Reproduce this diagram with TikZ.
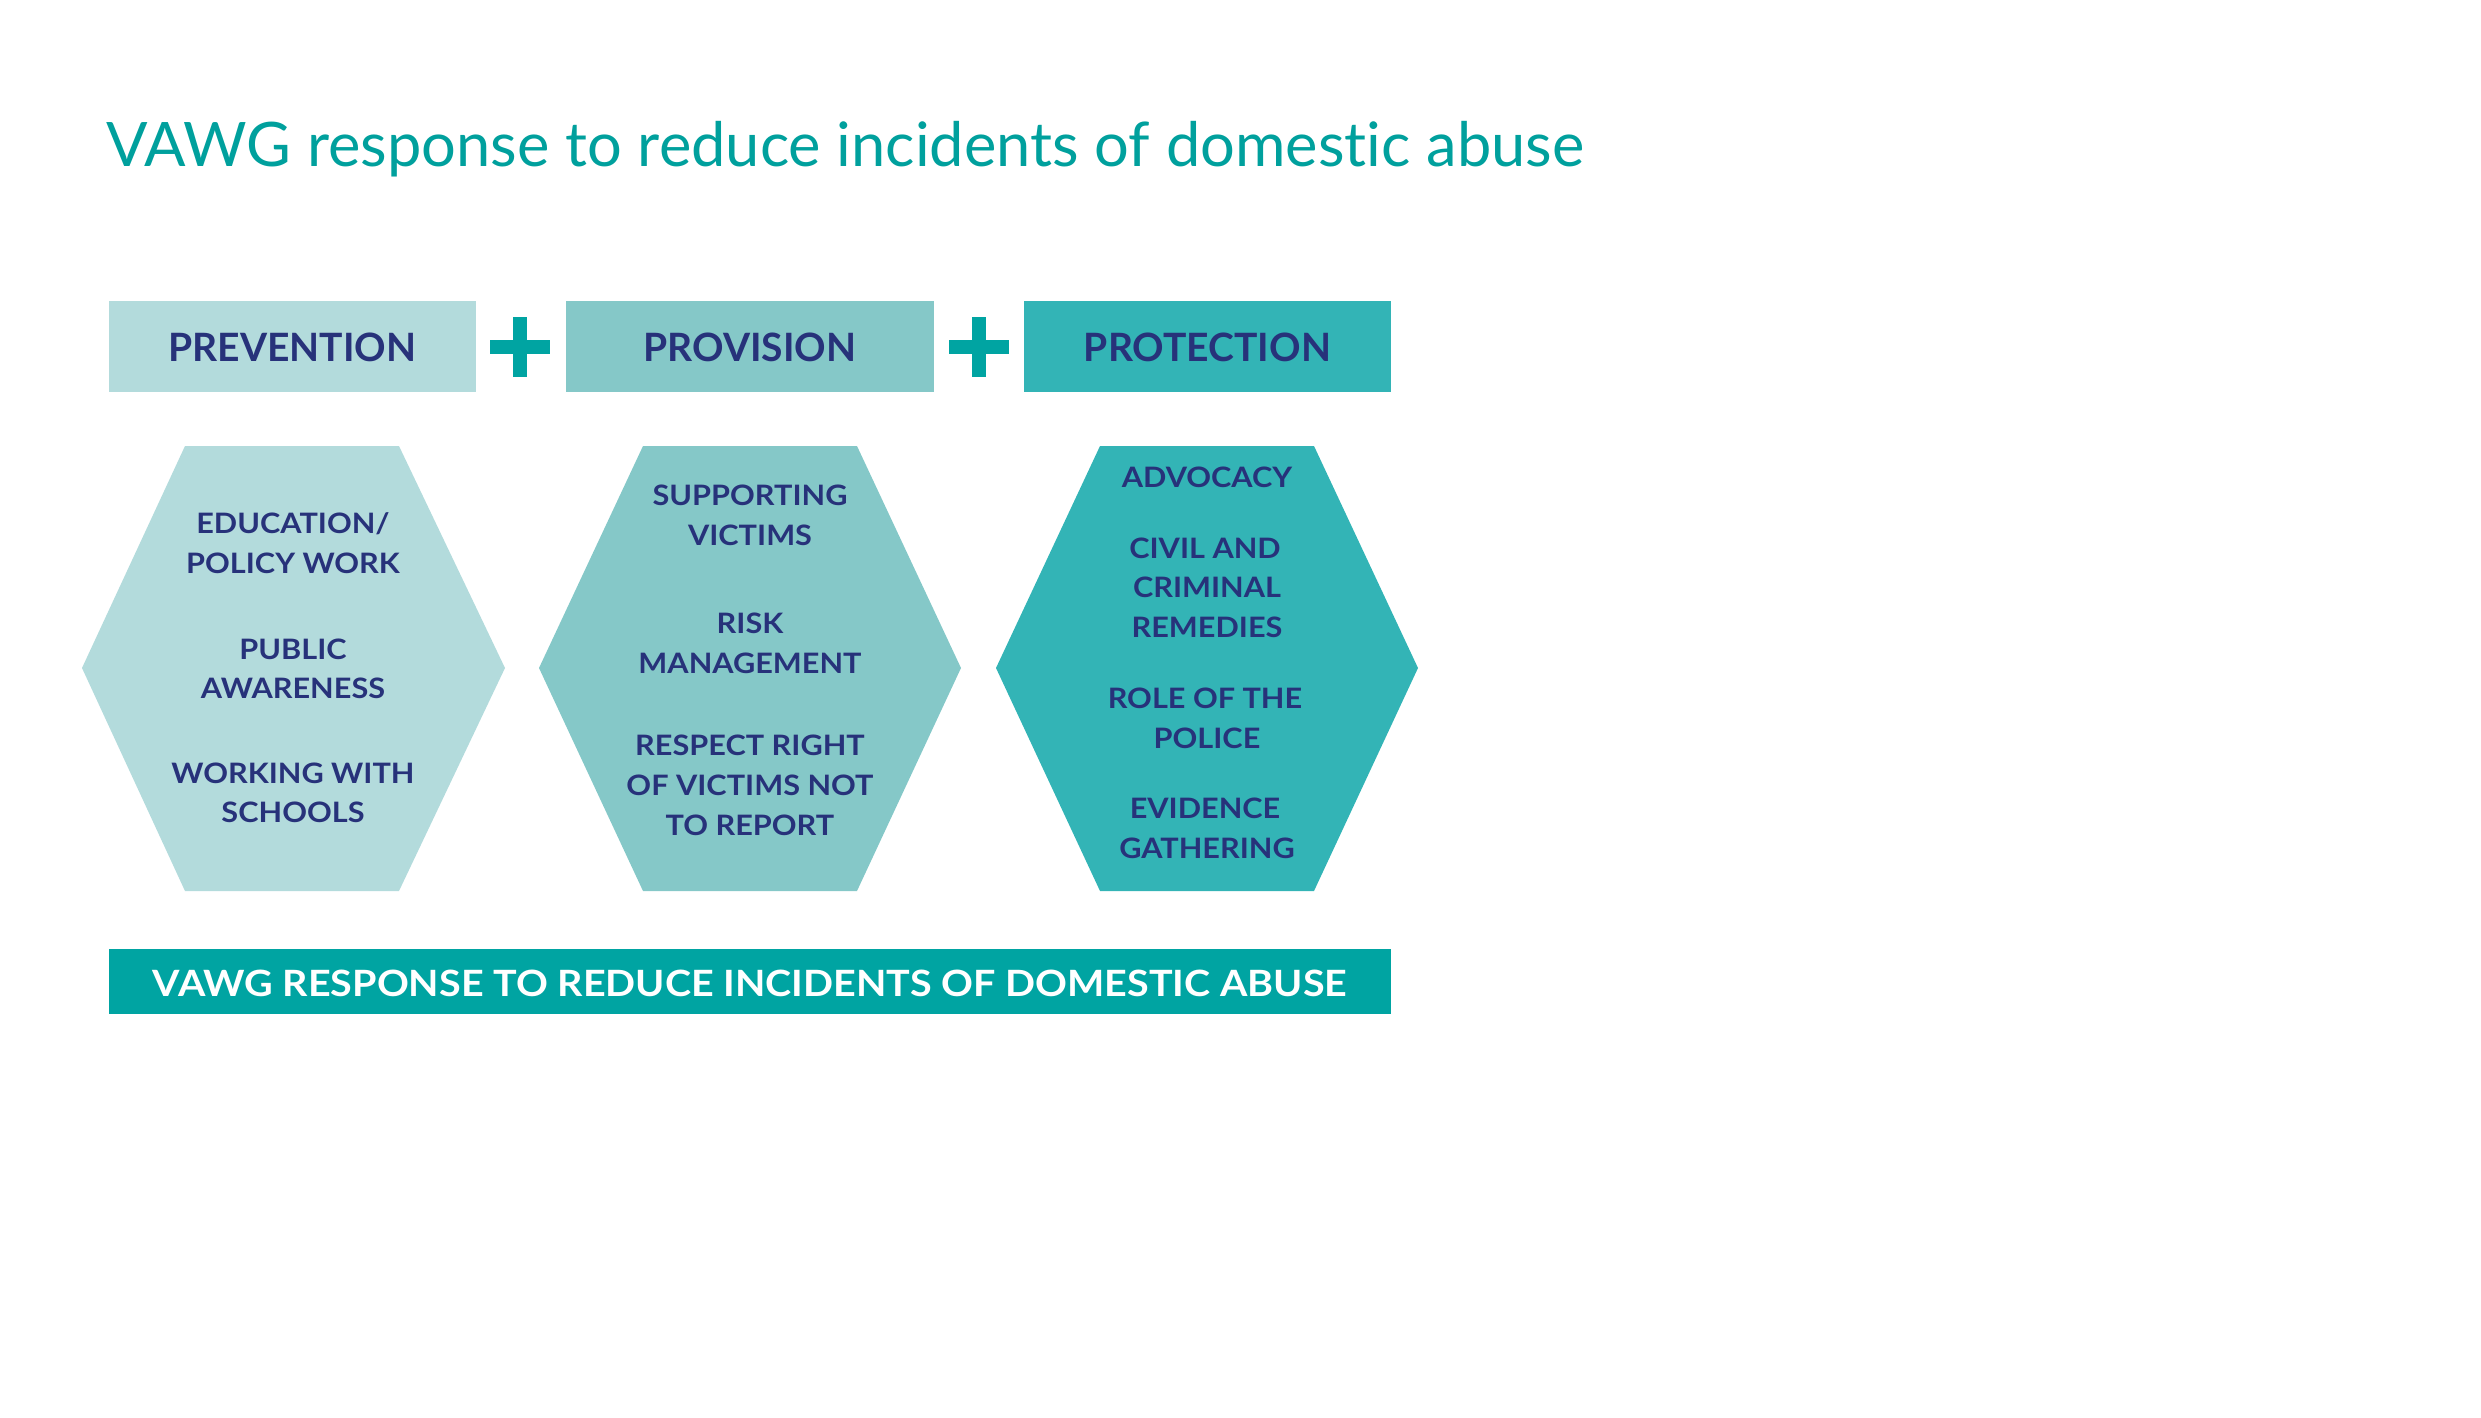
\documentclass[tikz,border=0pt]{standalone}
\usepackage{fontspec}
\setmainfont{Lato}[RawFeature=-liga]
\newfontfamily\widefont{Lato}[FakeStretch=1.09, RawFeature=-liga]
\definecolor{lightteal}{HTML}{B3DBDC}
\definecolor{midteal}{HTML}{85C8C8}
\definecolor{darkteal}{HTML}{33B4B6}
\definecolor{barteal}{HTML}{00A4A2}
\definecolor{navy}{HTML}{27327A}
\definecolor{titleteal}{HTML}{00A09D}
\tikzset{
  headlabel/.style={anchor=base, text=navy, font=\fontsize{11.1}{13}\selectfont\bfseries, inner sep=0pt},
  hexline/.style={anchor=base, text=navy, font=\widefont\fontsize{8}{10}\selectfont\bfseries, inner sep=0pt},
  plusbar/.style={fill=barteal},
}
\begin{document}
\begin{tikzpicture}[x=0.01cm, y=-0.01cm]
\useasboundingbox (0,0) rectangle (2481,1418);
% title
\node[anchor=base west, inner sep=0pt, text=titleteal, font=\fontsize{17.45}{20}\selectfont] (title) at (106,166) {VAWG response to reduce incidents of domestic abuse};
% header boxes
\fill[lightteal] (109,301) rectangle (476,392);
\fill[midteal] (566,301) rectangle (934,392);
\fill[darkteal] (1024,301) rectangle (1391,392);
\node[headlabel] (prev) at (292.5,361) {PREVENTION};
\node[headlabel] (prov) at (750,361) {PROVISION};
\node[headlabel] (prot) at (1207.5,361) {PROTECTION};
% plus signs
\fill[plusbar] (489.5,340) rectangle (549.5,354);
\fill[plusbar] (512.5,317) rectangle (526.5,377);
\fill[plusbar] (949,340) rectangle (1009,354);
\fill[plusbar] (972,317) rectangle (986,377);
% hexagons
\fill[lightteal] (185,446) -- (399,446) -- (505,668) -- (399,891) -- (185,891) -- (82,668) -- cycle;
\fill[midteal] (643,446) -- (857,446) -- (961,668) -- (857,891) -- (643,891) -- (539,668) -- cycle;
\fill[darkteal] (1100,446) -- (1314,446) -- (1418,668) -- (1314,891) -- (1100,891) -- (996,668) -- cycle;
% hexagon 1 text
\node[hexline] (a1) at (293,533) {EDUCATION/};
\node[hexline] (a2) at (293,573) {POLICY WORK};
\node[hexline] (a3) at (293,659) {PUBLIC};
\node[hexline] (a4) at (293,698) {AWARENESS};
\node[hexline] (a5) at (293,783) {WORKING WITH};
\node[hexline] (a6) at (293,822) {SCHOOLS};
% hexagon 2 text
\node[hexline] (b1) at (750,505) {SUPPORTING};
\node[hexline] (b2) at (750,545) {VICTIMS};
\node[hexline] (b3) at (750,633) {RISK};
\node[hexline] (b4) at (750,673) {MANAGEMENT};
\node[hexline] (b5) at (750,755) {RESPECT RIGHT};
\node[hexline] (b6) at (750,795) {OF VICTIMS NOT};
\node[hexline] (b7) at (750,835) {TO REPORT};
% hexagon 3 text
\node[hexline] (c1) at (1207,487) {ADVOCACY};
\node[hexline] (c2) at (1205,558) {CIVIL AND};
\node[hexline] (c3) at (1207,597) {CRIMINAL};
\node[hexline] (c4) at (1207,637) {REMEDIES};
\node[hexline] (c5) at (1205,708) {ROLE OF THE};
\node[hexline] (c6) at (1207,748) {POLICE};
\node[hexline] (c7) at (1205,818) {EVIDENCE};
\node[hexline] (c8) at (1207,858) {GATHERING};
% bottom bar
\fill[barteal] (109,949) rectangle (1391,1014);
\node[anchor=base, inner sep=0pt, text=white, font=\widefont\fontsize{10.3}{12}\selectfont\bfseries] (bar) at (750,996) {VAWG RESPONSE TO REDUCE INCIDENTS OF DOMESTIC ABUSE};
\end{tikzpicture}
\end{document}
